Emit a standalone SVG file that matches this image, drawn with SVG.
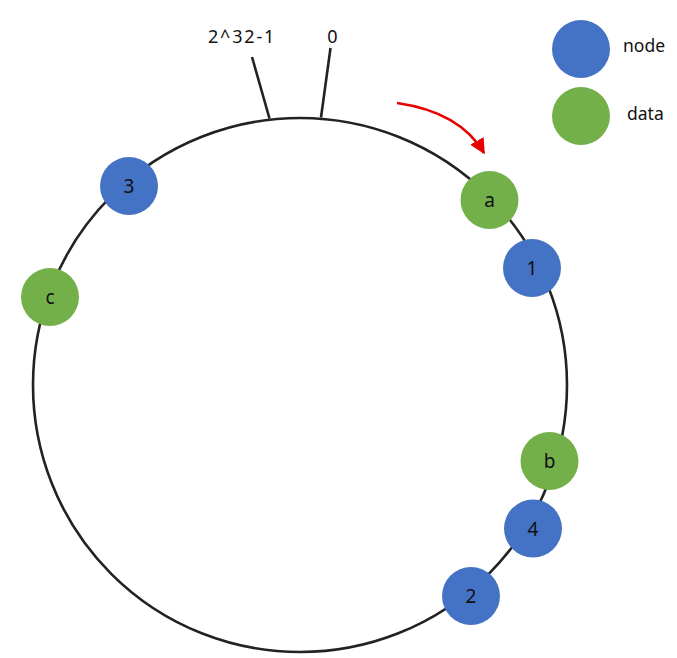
<svg xmlns="http://www.w3.org/2000/svg" width="677" height="658" viewBox="0 0 677 658">
  <style>
    .ring { fill: none; stroke: #222; stroke-width: 2.6; }
    .tick { stroke: #222; stroke-width: 2.6; }
    .node { fill: #4472C4; }
    .data { fill: #74B04A; }
    .lbl { font-family: "Noto Sans", "Open Sans", sans-serif; font-size: 19px; fill: #111; text-anchor: middle; }
    .top { font-family: "Noto Sans", "Open Sans", sans-serif; font-size: 18px; fill: #111; }
    .leg { font-family: "Noto Sans", "Open Sans", sans-serif; font-size: 17.5px; fill: #111; }
  </style>
  <defs>
    <marker id="redhead" viewBox="0 0 10 10" refX="9" refY="5" markerWidth="6" markerHeight="6" markerUnits="strokeWidth" orient="auto">
      <path d="M0,0 L10,5 L0,10 z" fill="#e60000"/>
    </marker>
  </defs>
  <rect width="677" height="658" fill="#ffffff"/>
  <g id="connectors">
    <circle class="ring" cx="300" cy="385" r="267"/>
    <line class="tick" x1="252" y1="57" x2="269.5" y2="118.5"/>
    <line class="tick" x1="330.5" y1="48" x2="321" y2="117.5"/>
    <path d="M397,103 Q460,112 484,153" fill="none" stroke="#e60000" stroke-width="2.6" marker-end="url(#redhead)"/>
  </g>
  <g id="label-max"><text class="top" x="208" y="43" letter-spacing="1.8">2^32-1</text></g>
  <g id="label-zero"><text class="top" x="332.5" y="43" text-anchor="middle">0</text></g>
  <g id="node-3"><circle class="node" cx="129" cy="186" r="29"/><text class="lbl" x="129" y="193">3</text></g>
  <g id="data-a"><circle class="data" cx="489.5" cy="200" r="29"/><text class="lbl" x="489.5" y="207">a</text></g>
  <g id="node-1"><circle class="node" cx="532" cy="268" r="29"/><text class="lbl" x="532" y="275">1</text></g>
  <g id="data-c"><circle class="data" cx="50" cy="297" r="29"/><text class="lbl" x="50" y="304">c</text></g>
  <g id="data-b"><circle class="data" cx="549.5" cy="461" r="29"/><text class="lbl" x="549.5" y="468">b</text></g>
  <g id="node-4"><circle class="node" cx="533" cy="528.5" r="29"/><text class="lbl" x="533" y="535.5">4</text></g>
  <g id="node-2"><circle class="node" cx="471" cy="596" r="29"/><text class="lbl" x="471" y="603">2</text></g>
  <g id="legend-node"><circle class="node" cx="581" cy="49" r="29"/><text class="leg" x="623" y="52">node</text></g>
  <g id="legend-data"><circle class="data" cx="581" cy="116" r="29"/><text class="leg" x="627" y="120">data</text></g>
</svg>
